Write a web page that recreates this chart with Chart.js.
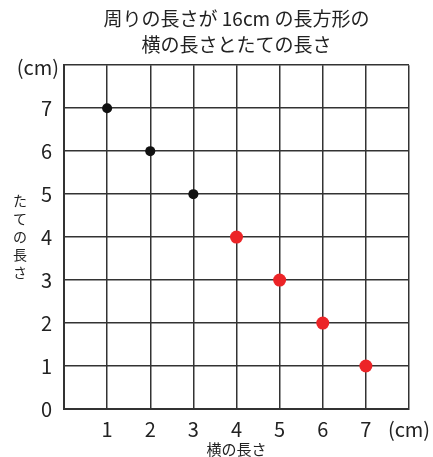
<!DOCTYPE html>
<html>
<head>
<meta charset="utf-8">
<script src="https://cdn.jsdelivr.net/npm/chart.js@4/dist/chart.umd.min.js"></script>
<style>
  body { margin: 0; background: #fff; }
</style>
</head>
<body>
<canvas id="rectChart" width="433" height="457"></canvas>
<script>
// data
const titleLines = ['周りの長さが 16cm の長方形の', '横の長さとたての長さ'];
const xTitle = '横の長さ';
const yTitle = 'たての長さ';
const unitLabel = '(cm)';
const blackWidths = [1, 2, 3];
const blackHeights = [7, 6, 5];
const redWidths = [4, 5, 6, 7];
const redHeights = [4, 3, 2, 1];

const jpFont = '"Noto Sans CJK JP", "Noto Sans", sans-serif';
const gridColor = '#333';
const textColor = '#222';

function toPoints(xs, ys) {
    return xs.map((x, i) => ({ x: x, y: ys[i] }));
}

// vertical y title + unit on the y axis
const axisTextPlugin = {
    id: 'axisText',
    afterDraw(chart) {
        const ctx = chart.ctx;
        const yScale = chart.scales.y;
        const area = chart.chartArea;
        ctx.save();
        ctx.fillStyle = textColor;

        ctx.font = '20px ' + jpFont;
        ctx.textAlign = 'right';
        ctx.textBaseline = 'middle';
        ctx.fillText(unitLabel, area.left - 5, yScale.getPixelForValue(8) + 2);

        ctx.font = '14px ' + jpFont;
        ctx.textAlign = 'center';
        const chars = Array.from(yTitle);
        const step = 18;
        const midY = (area.top + area.bottom) / 2;
        const startY = midY - step * (chars.length - 1) / 2;
        chars.forEach((c, i) => ctx.fillText(c, 20, startY + i * step));
        ctx.restore();
    }
};

const chart = new Chart(document.getElementById('rectChart').getContext('2d'), {
    type: 'scatter',
    data: {
        datasets: [{
            data: toPoints(blackWidths, blackHeights),
            backgroundColor: '#111',
            borderWidth: 0,
            pointRadius: 5
        }, {
            data: toPoints(redWidths, redHeights),
            backgroundColor: '#ec2427',
            borderWidth: 0,
            pointRadius: 6.5
        }]
    },
    options: {
        responsive: false,
        animation: false,
        layout: { padding: { left: 0, right: 24, top: 0, bottom: 0 } },
        plugins: {
            legend: { display: false },
            tooltip: { enabled: false },
            title: {
                display: true,
                text: titleLines,
                fullSize: false,
                color: textColor,
                font: { family: jpFont, size: 19, weight: 'normal', lineHeight: 1.4 },
                padding: { top: 5, bottom: 7 }
            }
        },
        scales: {
            x: {
                type: 'linear',
                min: 0,
                max: 8,
                afterFit: s => {
                    s.height = 48;
                    s.paddingLeft = 0;
                    s.paddingRight = 0;
                },
                grid: { color: gridColor, lineWidth: 1.5, drawTicks: false },
                border: { color: gridColor, width: 2 },
                ticks: {
                    stepSize: 1,
                    padding: 8,
                    maxRotation: 0,
                    minRotation: 0,
                    autoSkip: false,
                    color: textColor,
                    font: { family: jpFont, size: 20 },
                    callback: v => v === 0 ? '' : (v === 8 ? unitLabel : v)
                },
                title: {
                    display: true,
                    text: xTitle,
                    color: textColor,
                    font: { family: jpFont, size: 15, lineHeight: 1 },
                    padding: { top: 0, bottom: 0 }
                }
            },
            y: {
                type: 'linear',
                min: 0,
                max: 8,
                afterFit: s => { s.width = 64; },
                grid: { color: gridColor, lineWidth: 1.5, drawTicks: false },
                border: { color: gridColor, width: 2 },
                ticks: {
                    stepSize: 1,
                    padding: 12,
                    color: textColor,
                    font: { family: jpFont, size: 20 },
                    callback: v => v === 8 ? '' : v
                }
            }
        }
    },
    plugins: [axisTextPlugin]
});
</script>
</body>
</html>
